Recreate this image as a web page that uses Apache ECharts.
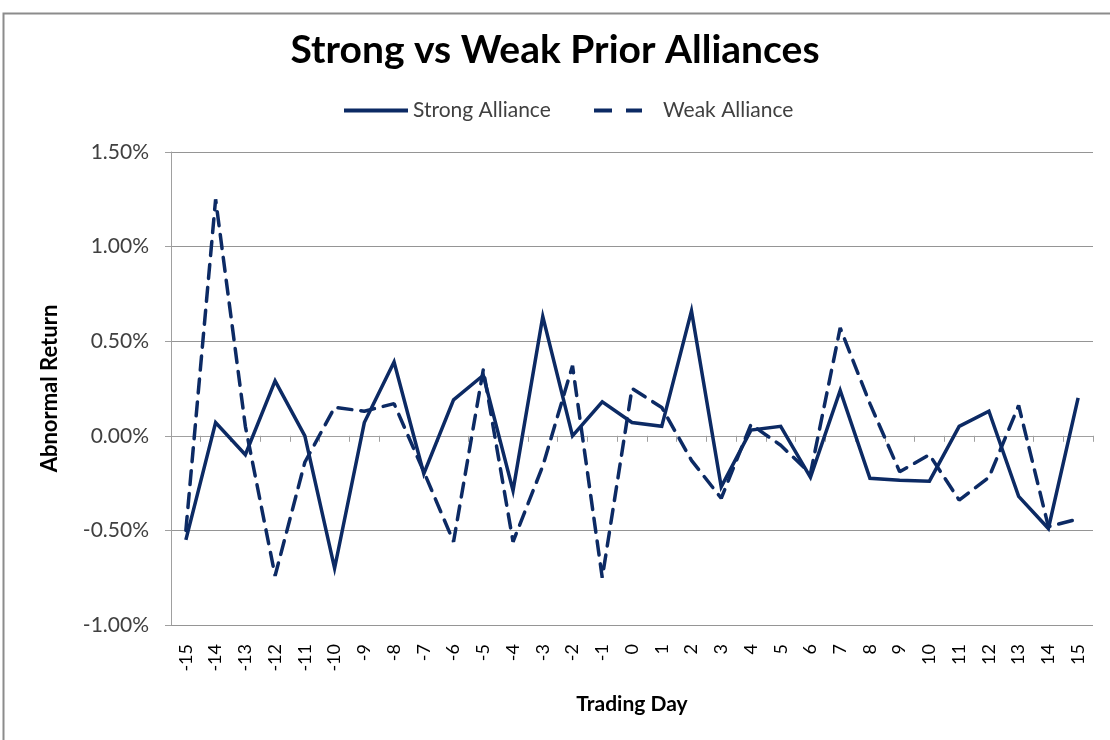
<!DOCTYPE html>
<html>
<head>
<meta charset="utf-8">
<script src="https://cdn.jsdelivr.net/npm/echarts@6/dist/echarts.min.js"></script>
<style>
  html, body { margin: 0; padding: 0; background: #fff; }
  #chart { width: 1110px; height: 740px; }
</style>
</head>
<body>
<div id="chart"></div>
<script>
// trading days around the event
var days = ['-15','-14','-13','-12','-11','-10','-9','-8','-7','-6','-5','-4','-3','-2','-1',
            '0','1','2','3','4','5','6','7','8','9','10','11','12','13','14','15'];

// abnormal return, in percent
var strongAlliance = [-0.55, 0.07, -0.10, 0.29, 0.00, -0.70, 0.07, 0.39, -0.20, 0.19, 0.32,
                      -0.29, 0.63, 0.00, 0.18, 0.07, 0.05, 0.66, -0.27, 0.03, 0.05, -0.22,
                      0.24, -0.225, -0.235, -0.24, 0.05, 0.13, -0.32, -0.49, 0.20];
var weakAlliance = [-0.50, 1.25, 0.05, -0.74, -0.14, 0.15, 0.13, 0.17, -0.19, -0.56, 0.35,
                    -0.56, -0.16, 0.37, -0.75, 0.25, 0.15, -0.13, -0.33, 0.06, -0.05, -0.20,
                    0.57, 0.17, -0.19, -0.10, -0.34, -0.22, 0.16, -0.48, -0.44];

var navy = '#0c2a64';
var font = 'Lato, "Open Sans", sans-serif';

var myChart = echarts.init(document.getElementById('chart'));

var option = {
    animation: false,
    backgroundColor: '#fff',
    textStyle: { fontFamily: font },
    graphic: [{
        type: 'rect',
        shape: { x: 3.5, y: 13.5, width: 1200, height: 800 },
        style: { fill: 'none', stroke: '#8c8c8c', lineWidth: 2 },
        silent: true
    }],
    title: {
        text: 'Strong vs Weak Prior Alliances',
        left: 'center',
        top: 26,
        textStyle: { fontFamily: font, fontSize: 39, fontWeight: 'bold', color: '#000' }
    },
    legend: [{
        top: 95,
        left: 339,
        itemWidth: 64,
        itemHeight: 4,
        textStyle: { fontFamily: font, fontSize: 21, color: '#404040' },
        data: [{ name: 'Strong Alliance', icon: 'rect' }]
    }, {
        top: 95,
        left: 589,
        itemWidth: 48,
        itemHeight: 4,
        textStyle: { fontFamily: font, fontSize: 21, color: '#404040', padding: [0, 0, 0, 16] },
        data: [{ name: 'Weak Alliance', icon: 'path://M0,0h18v4h-18zM32,0h16v4h-16z' }]
    }],
    grid: { left: 171, right: 17, top: 152, bottom: 115 },
    xAxis: {
        type: 'category',
        data: days,
        boundaryGap: true,
        name: 'Trading Day',
        nameLocation: 'middle',
        nameGap: 69,
        nameTextStyle: { fontFamily: font, fontSize: 21, fontWeight: 'bold', color: '#000' },
        axisLine: { lineStyle: { color: '#a0a0a0', width: 1 } },
        axisTick: { show: true, length: 6, lineStyle: { color: '#a0a0a0' } },
        axisLabel: { rotate: 90, interval: 0, fontSize: 18, color: '#000', margin: 19 },
        splitLine: { show: false }
    },
    yAxis: {
        type: 'value',
        min: -1.0,
        max: 1.5,
        interval: 0.5,
        name: 'Abnormal Return',
        nameLocation: 'middle',
        nameGap: 110,
        nameRotate: 90,
        nameTextStyle: { fontFamily: font, fontSize: 22, fontWeight: 'bold', color: '#000' },
        axisLine: { show: true, lineStyle: { color: '#a0a0a0', width: 1 } },
        axisTick: { show: true, length: 6, lineStyle: { color: '#a0a0a0' } },
        axisLabel: {
            fontSize: 21,
            color: '#404040',
            margin: 22,
            formatter: function (v) { return v.toFixed(2) + '%'; }
        },
        splitLine: { lineStyle: { color: '#959595', width: 1 } }
    },
    series: [
        {
            name: 'Strong Alliance',
            type: 'line',
            data: strongAlliance,
            symbol: 'none',
            lineStyle: { color: navy, width: 3.5, join: 'miter' },
            itemStyle: { color: navy }
        },
        {
            name: 'Weak Alliance',
            type: 'line',
            data: weakAlliance,
            symbol: 'none',
            lineStyle: { color: navy, width: 3.5, type: [14, 9], cap: 'round' },
            itemStyle: { color: navy }
        }
    ]
};

myChart.setOption(option);
</script>
</body>
</html>
